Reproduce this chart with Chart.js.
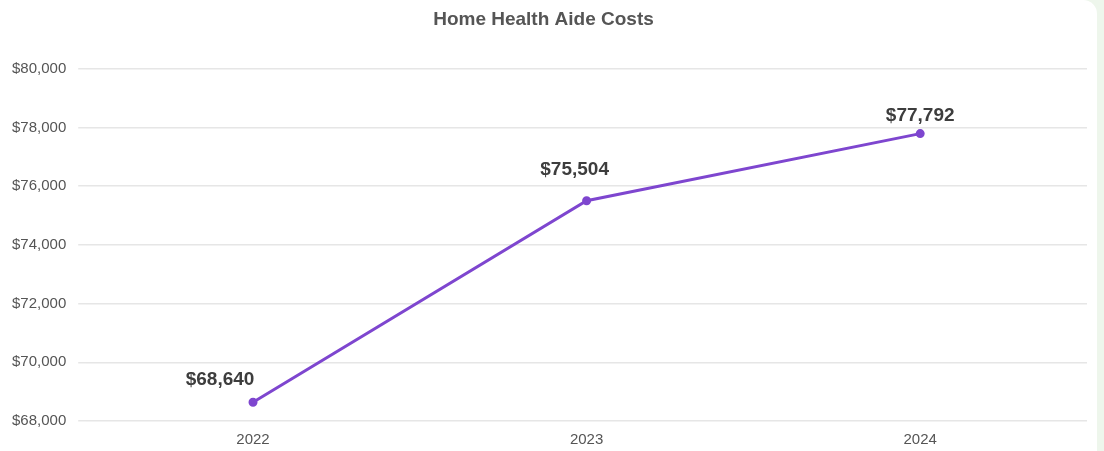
<!DOCTYPE html>
<html><head><meta charset="utf-8">
<script src="https://cdn.jsdelivr.net/npm/chart.js@4"></script>
<style>
html,body{margin:0;padding:0;background:#eef6ec;overflow:hidden}
#card{position:absolute;left:0;top:0;width:1097px;height:451px;background:#fff;border-radius:0 14px 0 0}
#wrap{position:absolute;left:0;top:0;width:1097px;height:451px}
</style></head><body>
<div id="card"><div id="wrap"><canvas id="c"></canvas></div></div>
<script>
const categories = ['2022','2023','2024'];
const costs = [68640, 75504, 77792];
const yTicks = [68000,70000,72000,74000,76000,78000,80000];
const fmt = v => '$' + v.toLocaleString('en-US');
const FONT = '"Liberation Sans", Arial, sans-serif';
const labelPlugin = {
  id:'labels',
  afterDatasetsDraw(chart){
    const ctx = chart.ctx, meta = chart.getDatasetMeta(0);
    const dx = [-33,-12,0], dy = [-22,-31,-18];
    ctx.save();
    ctx.font = 'bold 19px ' + FONT;
    ctx.fillStyle = '#3d3d3d'; ctx.textAlign='center'; ctx.textBaseline='middle';
    meta.data.forEach((p,i)=>{ ctx.fillText(fmt(costs[i]), p.x + dx[i], p.y + dy[i]); });
    ctx.restore();
  }
};
new Chart(document.getElementById('c'), {
  type:'line',
  data:{labels:categories, datasets:[{data:costs, borderColor:'#7e46cf', backgroundColor:'#7e46cf', borderWidth:3, pointRadius:3, pointHoverRadius:3, tension:0}]},
  options:{
    responsive:true, maintainAspectRatio:false, animation:false,
    layout:{padding:{left:0,right:10,top:0,bottom:0}},
    plugins:{legend:{display:false}, tooltip:{enabled:false},
      title:{display:true, text:'Home Health Aide Costs', color:'#555', font:{family:FONT, size:19, weight:'bold'}, padding:{top:8,bottom:38}}},
    scales:{
      x:{offset:true, grid:{display:false}, border:{display:false}, ticks:{color:'#555', font:{family:FONT, size:15}, padding:2}},
      y:{min:68000, max:80000, border:{display:false}, grid:{color:'#e6e6e6', lineWidth:1.5},
        afterBuildTicks(s){ s.ticks = yTicks.map(v=>({value:v})); },
        ticks:{color:'#555', padding:12, font:{family:FONT, size:15}, callback:v=>fmt(v)}}
    }
  },
  plugins:[labelPlugin]
});
</script></body></html>
